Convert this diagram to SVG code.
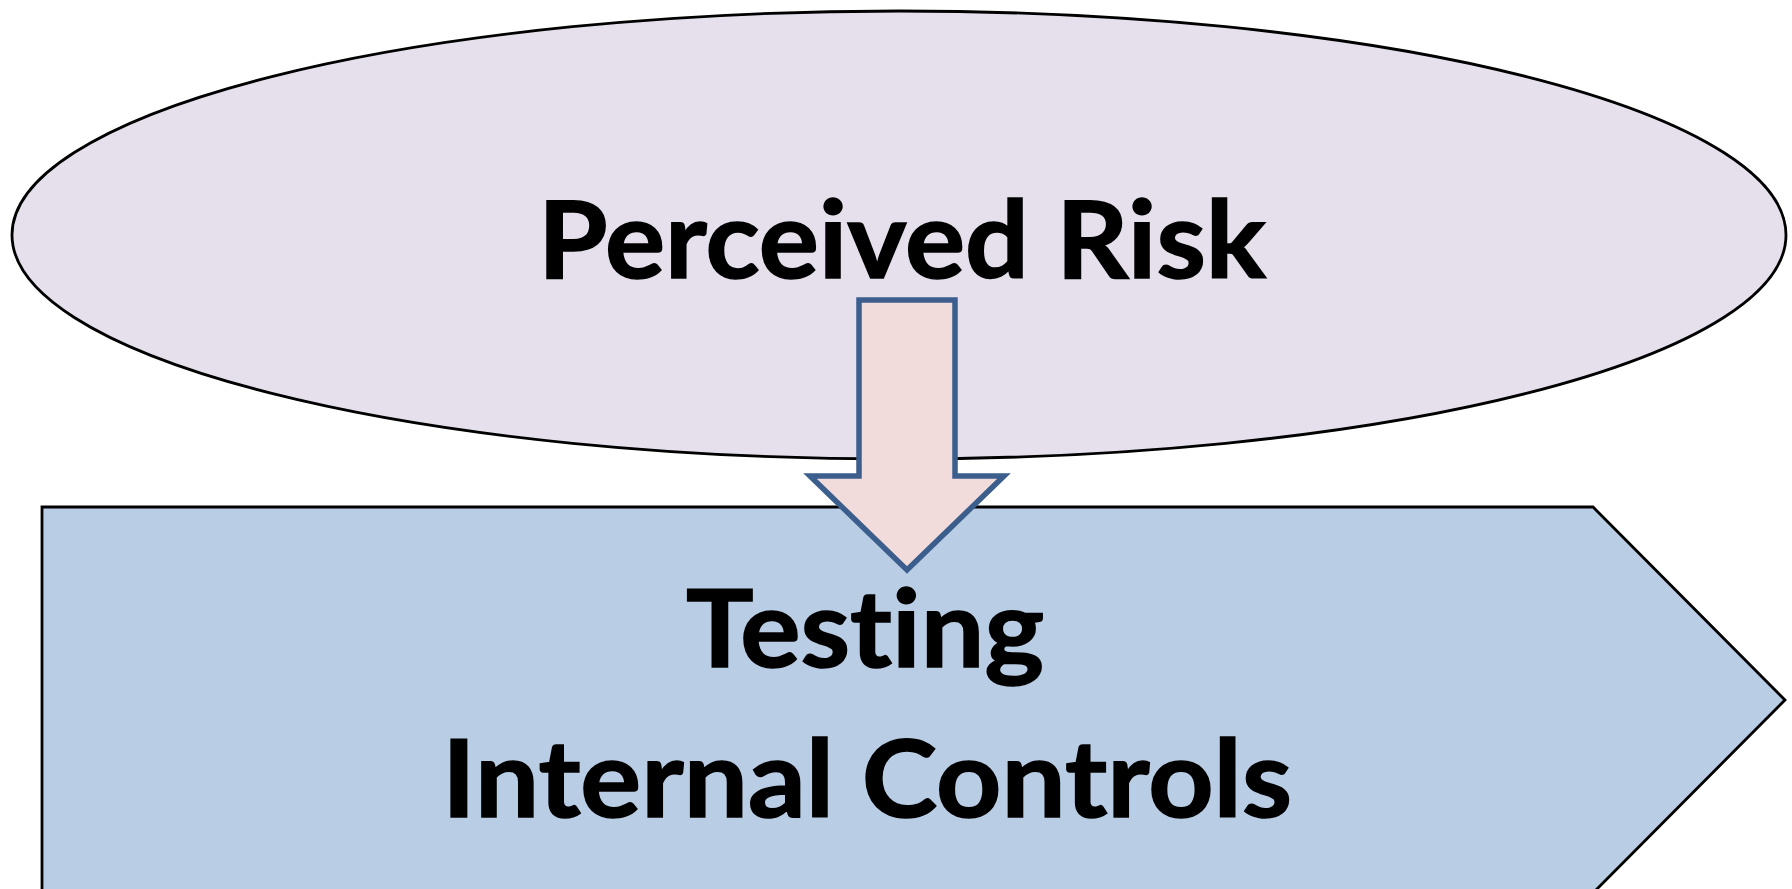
<svg xmlns="http://www.w3.org/2000/svg" width="1792" height="889" viewBox="0 0 1792 889">
  <style>
    .lbl { font-family: Lato, "Open Sans", "Liberation Sans", sans-serif; font-weight: bold; font-size: 107px; fill: #000000; stroke: #000000; stroke-width: 1.5; font-variant-ligatures: none; font-feature-settings: "liga" 0, "clig" 0; }
    .shape { stroke: #000000; stroke-width: 2.8; }
  </style>
  <rect x="0" y="0" width="1792" height="889" fill="#FFFFFF"/>
  <g id="node-perceived-risk">
    <ellipse class="shape" cx="899" cy="235" rx="887" ry="224" fill="#E5E0EC"/>
    <text class="lbl" x="538" y="278" textLength="728" lengthAdjust="spacingAndGlyphs">Perceived Risk</text>
  </g>
  <g id="node-testing">
    <polygon class="shape" points="42,507 1593,507 1785,700 1593,893 42,893" fill="#B9CDE5"/>
    <text class="lbl" x="686" y="667" textLength="358" lengthAdjust="spacingAndGlyphs">Testing</text>
    <text class="lbl" x="442" y="817" textLength="850" lengthAdjust="spacingAndGlyphs">Internal Controls</text>
  </g>
  <g id="connectors">
    <polygon points="859,300 955,300 955,476 1004,476 907,570 810,476 859,476" fill="#F2DCDB" stroke="#3B5E8C" stroke-width="5.5"/>
  </g>
</svg>
